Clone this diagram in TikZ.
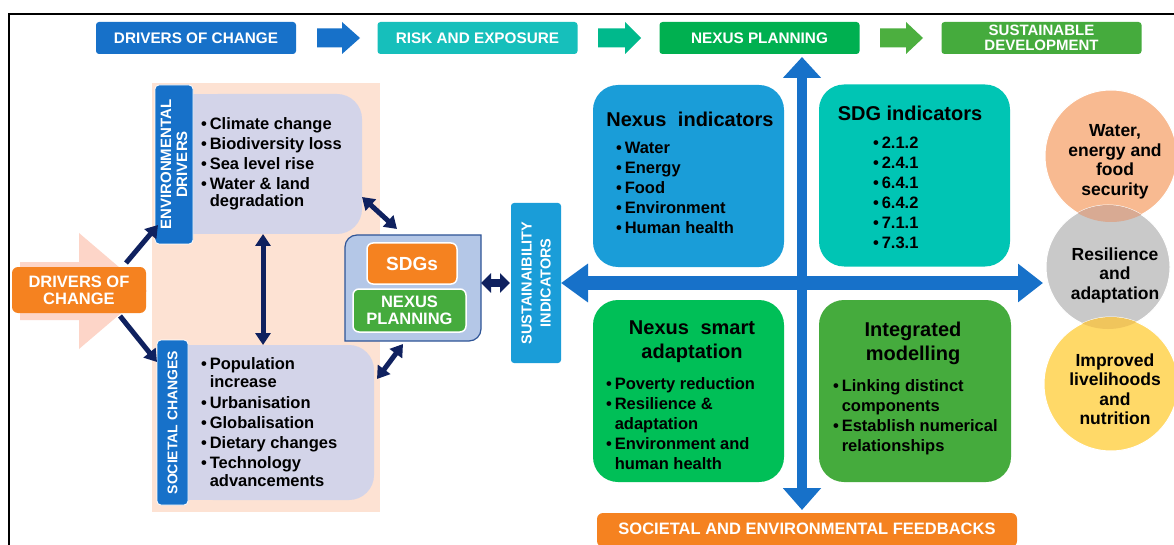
\documentclass[tikz,border=0pt]{standalone}
\usepackage{fontspec}
\setmainfont{Liberation Sans}
\usetikzlibrary{arrows.meta}
\definecolor{cblue}{HTML}{1771C9}
\definecolor{cteal}{HTML}{16BFBB}
\definecolor{carr2}{HTML}{00B98C}
\definecolor{cgreen}{HTML}{00B050}
\definecolor{carr3}{HTML}{4CAF3F}
\definecolor{cgreen2}{HTML}{45AB3D}
\definecolor{clav}{HTML}{D3D4E9}
\definecolor{cpeach}{HTML}{FDE2D3}
\definecolor{cpink}{HTML}{FDD5C8}
\definecolor{corange}{HTML}{F58220}
\definecolor{cnavy}{HTML}{0F215F}
\definecolor{csdgfill}{HTML}{B4C7E7}
\definecolor{csdgline}{HTML}{2F5597}
\definecolor{csky}{HTML}{1A9DD8}
\definecolor{cturq}{HTML}{00C5B4}
\definecolor{cbright}{HTML}{00BF57}
\definecolor{csalmon}{HTML}{F8BA91}
\definecolor{cgray}{HTML}{C9C9C9}
\definecolor{cyellow}{HTML}{FFD968}
\definecolor{cov1}{HTML}{D8AA93}
\definecolor{cov2}{HTML}{F0C55C}
\newcommand\fs[2]{\fontsize{#1}{#2}\selectfont}
\newcommand\blist[1]{\begin{tabular}[t]{@{}l@{\hspace{3pt}}l@{}}#1\end{tabular}}
\tikzset{
  topbox/.style={rectangle, rounded corners=3pt, minimum width=200pt, minimum height=32pt, text=white, align=center, font=\bfseries\fs{15.3}{15}},
  tabbox/.style={rectangle, rounded corners=4pt, fill=cblue, draw=white, line width=0.8pt, text=white, align=center, rotate=90},
  card/.style={rectangle, rounded corners=25pt, minimum width=191pt, minimum height=182pt},
  navyarrow/.style={draw=cnavy, line width=5pt, -{Triangle[width=15pt,length=12pt]}},
  navydbl/.style={draw=cnavy, line width=5pt, {Triangle[width=15pt,length=12pt]}-{Triangle[width=15pt,length=12pt]}},
  listtext/.style={anchor=base west, font=\bfseries\fs{16.5}{20}},
  cardtitle/.style={align=center, font=\bfseries\fs{20}{24}},
  circtext/.style={align=center, font=\bfseries\fs{17.5}{19.5}},
  circ/.style={circle, draw=white, line width=1pt}
}
\begin{document}
\begin{tikzpicture}[x=1pt,y=-1pt,font=\bfseries, every node/.append style={inner sep=0pt, outer sep=0pt}]
\useasboundingbox (0,0) rectangle (1174,545);
\fill[white] (0,0) rectangle (1174,545);

% top row
\node[topbox, fill=cblue] (t1) at (196,38) {DRIVERS OF CHANGE};
\node[topbox, fill=cteal] (t2) at (477.5,38) {RISK AND EXPOSURE};
\node[topbox, fill=cgreen] (t3) at (759.5,38) {NEXUS PLANNING};
\node[topbox, fill=cgreen2, font=\bfseries\fs{15}{15}] (t4) at (1041.5,38) {SUSTAINABLE\\DEVELOPMENT};
\fill[cblue] (317,28.5) -- (342,28.5) -- (342,22) -- (360,38) -- (342,54) -- (342,47.5) -- (317,47.5) -- cycle;
\fill[carr2] (598,28.5) -- (625,28.5) -- (625,22) -- (641,38) -- (625,54) -- (625,47.5) -- (598,47.5) -- cycle;
\fill[carr3] (880,28.5) -- (906,28.5) -- (906,22) -- (923,38) -- (906,54) -- (906,47.5) -- (880,47.5) -- cycle;

% left part
\fill[cpeach] (152,83) rectangle (380,512);
\fill[cpink] (20,262) -- (79,262) -- (79,233) -- (147,291) -- (79,349) -- (79,320) -- (20,320) -- cycle;

\node[fill=clav, rounded corners=25pt, minimum width=169pt, minimum height=140pt] (envbox) at (277.5,164) {};
\fill[clav] (193,94) rectangle (260,234);
\node[fill=clav, rounded corners=25pt, minimum width=186pt, minimum height=155pt] (socbox) at (281,422.5) {};
\fill[clav] (188,345) rectangle (260,500);

\node[tabbox, minimum width=159pt, minimum height=38pt, font=\bfseries\fs{15}{16}] (envtab) at (174,164.5) {ENVIRONMENTAL\\DRIVERS};
\node[tabbox, minimum width=165pt, minimum height=31pt, font=\bfseries\fs{14}{16}] (soctab) at (172.5,422.5) {SOCIETAL CHANGES};

\node[listtext] (envlist) at (201,130) {\blist{\textbullet & Climate change\\ \textbullet & Biodiversity loss\\ \textbullet & Sea level rise\\ \textbullet & Water \& land\\[-3pt] & degradation}};
\node[listtext] (soclist) at (201,369) {\blist{\textbullet & Population\\[-2pt] & increase\\[1pt] \textbullet & Urbanisation\\ \textbullet & Globalisation\\ \textbullet & Dietary changes\\ \textbullet & Technology\\[-2pt] & advancements}};

\node[rectangle, rounded corners=6pt, fill=corange, minimum width=134pt, minimum height=46pt, text=white, align=center, font=\bfseries\fs{16.5}{17}] (drvL) at (79,290) {DRIVERS OF\\CHANGE};

% SDG container
\node[minimum width=136pt, minimum height=106pt] (sdgbox) at (413,288) {};
\filldraw[fill=csdgfill, draw=csdgline, line width=1.2pt] (357,235) -- (481,235) -- (481,329) arc[start angle=0,end angle=90,radius=12] -- (345,341) -- (345,247) arc[start angle=180,end angle=270,radius=12] -- cycle;
\node[rectangle, rounded corners=6pt, fill=corange, draw=white, line width=1.5pt, minimum width=90pt, minimum height=41pt, text=white, font=\bfseries\fs{19}{20}] (sdgs) at (412,263.5) {SDGs};
\node[rectangle, rounded corners=6pt, fill=cgreen2, draw=white, line width=1.5pt, minimum width=113pt, minimum height=43pt, text=white, align=center, font=\bfseries\fs{16.5}{16.5}] (nexp) at (409.5,310.5) {NEXUS\\PLANNING};

% navy arrows
\coordinate (a1s) at (126,263); \coordinate (a1e) at (158,225);
\coordinate (a2s) at (120,316); \coordinate (a2e) at (157,362);
\coordinate (a3s) at (263,234); \coordinate (a3e) at (263,345);
\coordinate (a4s) at (362,197); \coordinate (a4e) at (397,229);
\coordinate (a5s) at (403,344); \coordinate (a5e) at (377,379);
\coordinate (a6s) at (481,283); \coordinate (a6e) at (510,283);
\draw[navyarrow] (a1s) -- (a1e);
\draw[navyarrow] (a2s) -- (a2e);
\draw[navydbl] (a3s) -- (a3e);
\draw[navydbl] (a4s) -- (a4e);
\draw[navydbl] (a5s) -- (a5e);
\draw[draw=cnavy, line width=8pt, {Triangle[width=19pt,length=10pt]}-{Triangle[width=19pt,length=10pt]}] (a6s) -- (a6e);

% sustainability indicators
\node[rectangle, rounded corners=3pt, fill=csky, rotate=90, minimum width=160pt, minimum height=50pt, text=white, align=center, font=\bfseries\fs{14.5}{19}] (susi) at (536,283) {SUSTAINAIBILITY\\INDICATORS};

% cross arrows
\coordinate (hr) at (1043,283);
\coordinate (vt) at (802,57); \coordinate (vb) at (802,510);
\draw[cblue, line width=14pt, {Triangle[width=37pt,length=27pt]}-{Triangle[width=37pt,length=25pt]}] (susi.south) -- (hr);
\draw[cblue, line width=10pt, {Triangle[width=37pt,length=21pt]}-{Triangle[width=37pt,length=22pt]}] (vt) -- (vb);

% cards
\node[card, fill=csky] (nexi) at (688.5,176) {};
\node[card, fill=cturq] (sdgi) at (914.5,175.5) {};
\node[card, fill=cbright] (nsa) at (688.5,391) {};
\node[card, fill=cgreen2, minimum width=192pt] (intm) at (915,391) {};

\node[cardtitle] (nexit) at (690,119) {Nexus\hspace{0.3em} indicators};
\node[listtext] (nexil) at (616,154) {\blist{\textbullet & Water\\ \textbullet & Energy\\ \textbullet & Food\\ \textbullet & Environment\\ \textbullet & Human health}};
\node[cardtitle] (sdgit) at (910,113) {SDG indicators};
\node[listtext] (sdgil) at (873,149) {\blist{\textbullet & 2.1.2\\ \textbullet & 2.4.1\\ \textbullet & 6.4.1\\ \textbullet & 6.4.2\\ \textbullet & 7.1.1\\ \textbullet & 7.3.1}};
\node[cardtitle] (nsat) at (692,342) {Nexus\hspace{0.3em} smart\\adaptation};
\node[listtext] (nsal) at (606,389) {\blist{\textbullet & Poverty reduction\\ \textbullet & Resilience \&\\ & adaptation\\ \textbullet & Environment and\\ & human health}};
\node[cardtitle] (intmt) at (913,343) {Integrated\\modelling};
\node[listtext] (intml) at (833,391) {\blist{\textbullet & Linking distinct\\ & components\\ \textbullet & Establish numerical\\ & relationships}};

% feedback
\node[rectangle, rounded corners=6pt, fill=corange, minimum width=420pt, minimum height=34pt, anchor=north] (fb) at (807,513) {};
\node[text=white, font=\bfseries\fs{16.5}{17}] (fbt) at (807,529) {SOCIETAL AND ENVIRONMENTAL FEEDBACKS};

% circles
\node[circ, fill=csalmon, minimum size=132pt] (c1) at (1111,156) {};
\node[circ, fill=cgray, minimum size=124pt] (c2) at (1108,267) {};
\node[circ, fill=cyellow, minimum size=134pt] (c3) at (1111,384) {};
\begin{scope}
\clip (1111,156) circle[radius=66];
\fill[cov1] (1108,267) circle[radius=62];
\end{scope}
\begin{scope}
\clip (1108,267) circle[radius=62];
\fill[cov2] (1111,384) circle[radius=67];
\end{scope}
\node[circtext] (c1t) at (1115,162) {Water,\\energy and\\food\\security};
\node[circtext] (c2t) at (1115,275) {Resilience\\and\\adaptation};
\node[circtext] (c3t) at (1115,389) {Improved\\livelihoods\\and\\nutrition};

% frame
\draw[line width=2.5pt] (9,600) -- (9,14) -- (1200,14);
\end{tikzpicture}
\end{document}
